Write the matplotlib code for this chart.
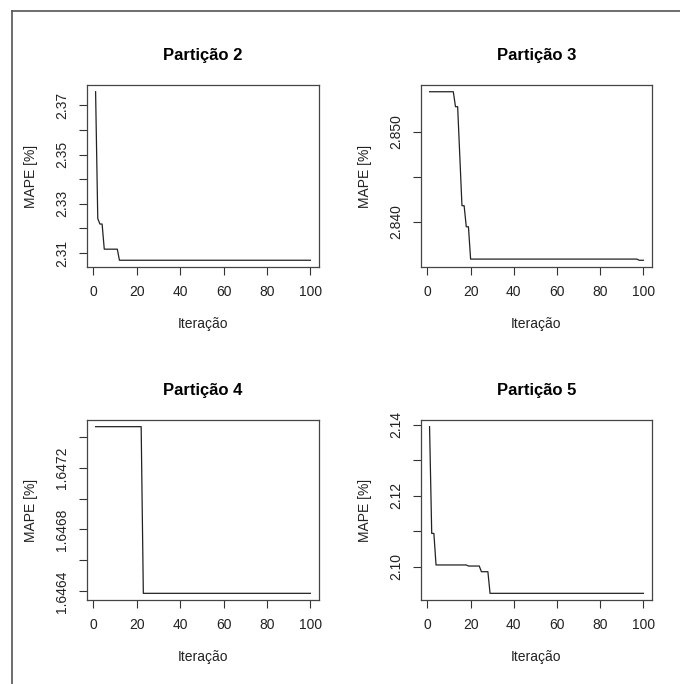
import numpy as np
import matplotlib
matplotlib.use('Agg')
import matplotlib.pyplot as plt
from matplotlib.lines import Line2D

plt.rcParams['font.family'] = ['Liberation Sans', 'DejaVu Sans']

# data: each series is a step curve, given as (first iteration of a level, level)
n_iter = 100
titles = ['Partição 2', 'Partição 3', 'Partição 4', 'Partição 5']

p2_start = [1, 2, 3, 5, 12]
p2_value = [2.3755, 2.3240, 2.3218, 2.3116, 2.3071]

p3_start = [1, 13, 15, 16, 18, 20, 98]
p3_value = [2.85444, 2.85278, 2.84730, 2.84178, 2.83944, 2.83585, 2.83572]

p4_start = [1, 23]
p4_value = [1.647465, 1.646387]

p5_start = [1, 2, 4, 19, 25, 29]
p5_value = [2.1395, 2.1094, 2.1005, 2.1002, 2.0986, 2.0925]

starts = [p2_start, p3_start, p4_start, p5_start]
values = [p2_value, p3_value, p4_value, p5_value]

# y ticks (all) and the ones R kept labels for
yticks = [[2.31, 2.32, 2.33, 2.34, 2.35, 2.36, 2.37],
          [2.840, 2.845, 2.850],
          [1.6464, 1.6466, 1.6468, 1.6470, 1.6472, 1.6474],
          [2.10, 2.11, 2.12, 2.13, 2.14]]
ylabels = [['2.31', '', '2.33', '', '2.35', '', '2.37'],
           ['2.840', '', '2.850'],
           ['1.6464', '', '1.6468', '', '1.6472', ''],
           ['2.10', '', '2.12', '', '2.14']]
xticks = [0, 20, 40, 60, 80, 100]


def expand(st, vals):
    counts = np.diff(st + [n_iter + 1])
    return np.repeat(vals, counts)


W, H = 680, 684
fig = plt.figure(figsize=(6.8, 6.84), dpi=100)

# axes boxes in pixels: left, top, right, bottom
boxes = [(87, 85, 319, 267), (421, 85, 652, 267),
         (87, 420, 319, 600), (421, 420, 652, 600)]

for i, (l, t, r, b) in enumerate(boxes):
    ax = fig.add_axes([l / W, 1 - b / H, (r - l) / W, (b - t) / H])
    x = np.arange(1, n_iter + 1)
    y = expand(starts[i], values[i])
    ax.plot(x, y, color='#222222', lw=0.9)
    ax.margins(x=0.04, y=0.04)
    ax.set_xticks(xticks)
    ax.set_yticks(yticks[i])
    ax.set_yticklabels(ylabels[i])
    ax.tick_params(axis='both', direction='out', length=6, width=0.8,
                   color='#333333', labelsize=10, labelcolor='#222222', pad=7)
    ax.tick_params(axis='y', labelrotation=90)
    for lab in ax.get_yticklabels():
        lab.set_va('center')
    for s in ax.spines.values():
        s.set_color('#444444')
        s.set_linewidth(0.9)
    ax.set_title(titles[i], fontsize=12, fontweight='bold', pad=18)
    ax.set_xlabel('Iteração', fontsize=10, color='#222222')
    ax.set_ylabel('MAPE [%]', fontsize=10, color='#222222')
    ax.xaxis.set_label_coords(0.5, -0.275)
    ax.yaxis.set_label_coords(-0.21, 0.5)

# frame lines of the original screenshot
fig.add_artist(Line2D([12 / W, 12 / W], [0, 1 - 11 / H], color='#555555', lw=1.2))
fig.add_artist(Line2D([12 / W, 1], [1 - 11 / H, 1 - 11 / H], color='#555555', lw=1.2))

fig.savefig('out.png', dpi=100)
